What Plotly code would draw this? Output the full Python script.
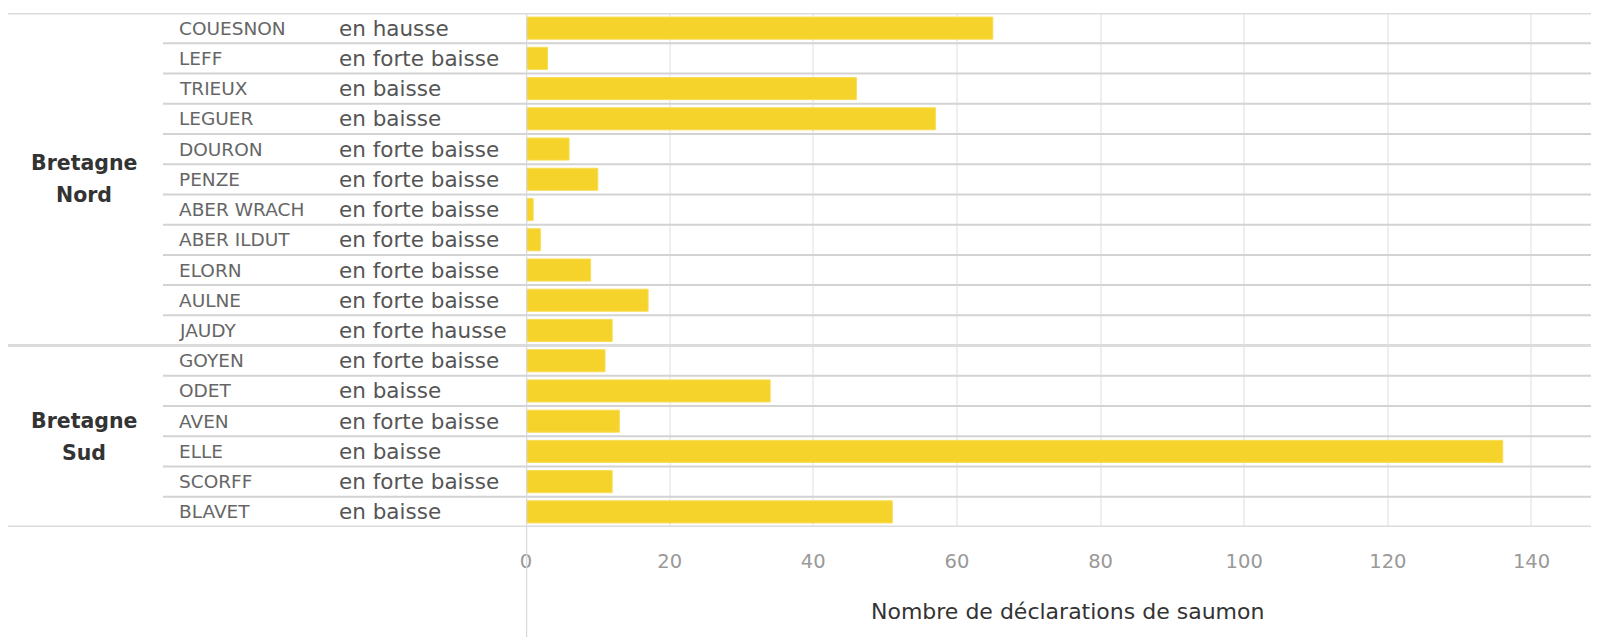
import plotly.graph_objects as go

rivers = ["COUESNON", "LEFF", "TRIEUX", "LEGUER", "DOURON", "PENZE", "ABER WRACH",
          "ABER ILDUT", "ELORN", "AULNE", "JAUDY",
          "GOYEN", "ODET", "AVEN", "ELLE", "SCORFF", "BLAVET"]
trends = ["en hausse", "en forte baisse", "en baisse", "en baisse", "en forte baisse",
          "en forte baisse", "en forte baisse", "en forte baisse", "en forte baisse",
          "en forte baisse", "en forte hausse",
          "en forte baisse", "en baisse", "en forte baisse", "en baisse",
          "en forte baisse", "en baisse"]
values = [65, 3, 46, 57, 6, 10, 1, 2, 9, 17, 12,
          11, 34, 13, 136, 12, 51]
groups = ["Bretagne Nord"] * 11 + ["Bretagne Sud"] * 6
tick_values = [0, 20, 40, 60, 80, 100, 120, 140]
axis_title = "Nombre de déclarations de saumon"

OFF = 8  # default page body margin
W, H = 1599 - OFF, 637 - OFF
ML, MR, MT, MB = 526 - OFF, 0, 13 - OFF, 110
PW = W - ML - MR
PH = H - MT - MB


def px_x(p):
    return (p - OFF - ML) / PW


def px_y(p):
    return (H - MB - (p - OFF)) / PH


fig = go.Figure()
fig.add_trace(go.Bar(
    x=values, y=rivers, orientation="h",
    marker=dict(color="#F6D32B", line=dict(color="#F8DC55", width=1)),
    width=0.73, hoverinfo="x+y", showlegend=False,
))

shapes = []
n = len(rivers)
group_bounds = {-0.5, 10.5, n - 0.5}
for i in range(n + 1):
    yb = i - 0.5
    if yb in group_bounds:
        shapes.append(dict(type="line", xref="paper", yref="y", x0=px_x(4), x1=1,
                           y0=yb, y1=yb, line=dict(color="#dcdcdc", width=3), layer="above"))
    else:
        shapes.append(dict(type="line", xref="paper", yref="y", x0=px_x(163), x1=1,
                           y0=yb, y1=yb, line=dict(color="#d3d3d3", width=2), layer="above"))
# axis line at zero
shapes.append(dict(type="line", xref="x", yref="paper", x0=0, x1=0,
                   y0=px_y(637), y1=px_y(13), line=dict(color="#d9d9d9", width=2.5), layer="above"))

annotations = []
for r, t in zip(rivers, trends):
    annotations.append(dict(xref="paper", yref="y", x=px_x(177), y=r, text=r,
                            xanchor="left", yanchor="middle", showarrow=False,
                            font=dict(family="DejaVu Sans", size=18.5, color="#666666")))
    annotations.append(dict(xref="paper", yref="y", x=px_x(337), y=r, text=t,
                            xanchor="left", yanchor="middle", showarrow=False,
                            font=dict(family="DejaVu Sans", size=21.5, color="#555555")))

group_labels = [("Bretagne", 163), ("Nord", 195), ("Bretagne", 421), ("Sud", 453)]
for txt, yp in group_labels:
    annotations.append(dict(xref="paper", yref="paper", x=px_x(84), y=px_y(yp), text="<b>" + txt + "</b>",
                            xanchor="center", yanchor="middle", showarrow=False,
                            font=dict(family="DejaVu Sans", size=20.5, color="#333333")))

annotations.append(dict(xref="paper", yref="paper", x=px_x(1067), y=px_y(611), text=axis_title,
                        xanchor="center", yanchor="middle", showarrow=False,
                        font=dict(family="DejaVu Sans", size=22, color="#333333")))

fig.update_layout(
    width=W, height=H,
    margin=dict(l=ML, r=MR, t=MT, b=MB, pad=0),
    paper_bgcolor="white", plot_bgcolor="white",
    bargap=0.27,
    shapes=shapes, annotations=annotations,
    xaxis=dict(range=[0, 149.4], tickvals=tick_values, showgrid=True, gridcolor="#efefef",
               gridwidth=1.5, zeroline=False, showline=False, ticks="",
               ticklabelstandoff=20,
               tickfont=dict(family="DejaVu Sans", size=19.5, color="#999999"), fixedrange=True),
    yaxis=dict(type="category", categoryorder="array", categoryarray=rivers,
               range=[n - 0.5, -0.5], showticklabels=False, showgrid=False,
               zeroline=False, showline=False, ticks="", fixedrange=True),
    showlegend=False,
)

fig.write_html("out.html")
